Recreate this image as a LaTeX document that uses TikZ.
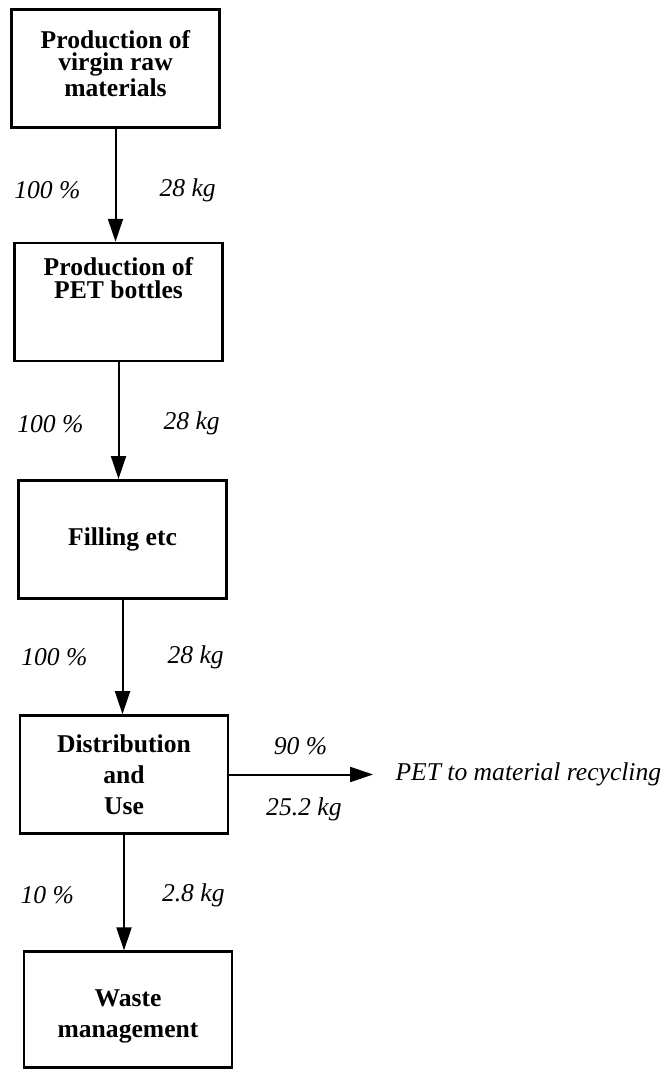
\documentclass[tikz,border=0pt]{standalone}
\usepackage{fontspec}
\setmainfont{Liberation Serif}
\usetikzlibrary{arrows.meta, positioning}
\tikzset{
  stage/.style = {rectangle, draw, line width=1.3pt, minimum width=104pt,
                  minimum height=59pt, align=center,
                  font=\fontsize{12.8}{11.25}\selectfont\bfseries},
  stagewide/.style = {stage, font=\fontsize{12.8}{15.5}\selectfont\bfseries},
  flow/.style = {-{Triangle[length=11.5pt, width=7.5pt]}, line width=1pt},
  qty/.style  = {inner sep=0pt, font=\fontsize{12.8}{14}\selectfont\itshape},
}

\begin{document}
\begin{tikzpicture}[x=0.5pt, y=-0.5pt]
\useasboundingbox (0,0) rectangle (672,1069);

% ---- Life cycle stages ------------------------------------------------------
\node[stage] (virgin) at (115.5,68.5)
     {Production of\\virgin raw\\materials\\[-6pt]\mbox{}};
\node[stage, below=56.5pt of virgin, xshift=1.5pt] (bottles)
     {Production of\\PET bottles\\[13pt]\mbox{}};
\node[stage, below=58.3pt of bottles, xshift=2pt] (filling) {Filling etc};
\node[stagewide, below=57.3pt of filling, xshift=0.75pt] (use)
     {Distribution\\and\\Use};
\node[stagewide, below=57.8pt of use, xshift=2pt, minimum height=58pt] (waste)
     {\mbox{}\\Waste\\management};

% ---- Recycling outlet -------------------------------------------------------
\node[qty, right=82.9pt of use] (recyc) {PET to material recycling};

% ---- Flows ------------------------------------------------------------------
\draw[flow] (virgin.south) -- (virgin.south |- bottles.north)
  node[qty, midway, yshift=-2.5pt, left=17pt] {100 \%}
  node[qty, midway, yshift=-2.5pt, right=21.5pt] {28 kg};
\draw[flow] (bottles.south) -- (bottles.south |- filling.north)
  node[qty, midway, yshift=-1.5pt, left=17pt] {100 \%}
  node[qty, midway, yshift=-1.5pt, right=22pt] {28 kg};
\draw[flow] (filling.south) -- (filling.south |- use.north)
  node[qty, midway, left=17pt] {100 \%}
  node[qty, midway, right=22pt] {28 kg};
\draw[flow] (use.south) -- (use.south |- waste.north)
  node[qty, midway, yshift=-1.5pt, left=24.5pt] {10 \%}
  node[qty, midway, yshift=-1.5pt, right=18.5pt] {2.8 kg};
\draw[flow, shorten >=11pt] (use) -- (recyc)
  node[qty, pos=0.43, yshift=14pt] {90 \%}
  node[qty, pos=0.45, yshift=-17.5pt] {25.2 kg};

\end{tikzpicture}
\end{document}
